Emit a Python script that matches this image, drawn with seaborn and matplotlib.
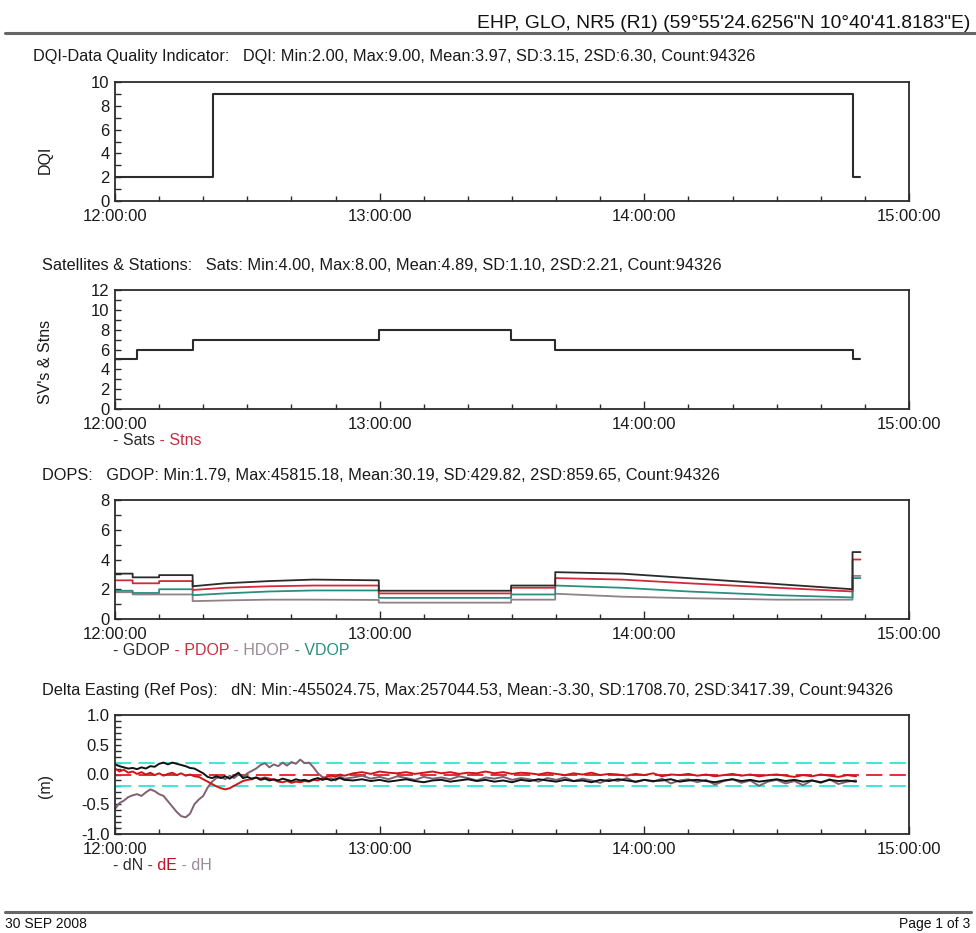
import matplotlib
matplotlib.use('Agg')
import matplotlib.pyplot as plt
from matplotlib import font_manager
from matplotlib.ticker import MultipleLocator
import seaborn as sns

# ---- data (minutes after 12:00:00) ----
dqi_min = [0, 22.2, 167.2, 169.0]
dqi_val = [2, 9, 2, 2]

sats_min = [0, 5.0, 17.7, 59.8, 89.8, 99.8, 167.2, 169.0]
sats_val = [5, 6, 7, 8, 7, 6, 5, 5]

dop_min = [0, 4, 4, 10, 10, 17.6, 17.6, 25, 35, 45, 59.8, 59.8, 89.8, 89.8,
           99.8, 99.8, 115, 130, 150, 167.2, 167.2, 169]
gdop = [3.05, 3.05, 2.8, 2.8, 2.95, 2.95, 2.2, 2.4, 2.55, 2.65, 2.6, 1.9, 1.9, 2.25,
        2.25, 3.15, 3.05, 2.75, 2.35, 2.0, 4.5, 4.5]
pdop = [2.6, 2.6, 2.4, 2.4, 2.55, 2.55, 1.95, 2.1, 2.2, 2.25, 2.25, 1.72, 1.72, 2.1,
        2.1, 2.75, 2.65, 2.4, 2.1, 1.85, 4.0, 4.0]
hdop = [1.8, 1.8, 1.65, 1.65, 1.65, 1.65, 1.2, 1.25, 1.3, 1.3, 1.28, 1.1, 1.1, 1.3,
        1.3, 1.7, 1.5, 1.4, 1.3, 1.3, 2.9, 2.9]
vdop = [1.9, 1.9, 1.75, 1.75, 2.0, 2.0, 1.6, 1.72, 1.85, 1.92, 1.92, 1.42, 1.42, 1.65,
        1.65, 2.25, 2.1, 1.85, 1.6, 1.45, 2.75, 2.75]

delta_min = [0, 1, 2, 3, 4, 5, 6, 7, 8, 9, 10, 11, 12, 13, 14, 15, 16, 17, 18, 19,
             20, 21, 22, 23, 24, 25, 26, 27, 28, 29, 30, 31, 32, 33, 34, 35, 36, 37, 38, 39,
             40, 41, 42, 43, 44, 45, 46, 47, 48, 49, 50, 51, 52,
             54, 56, 58, 60, 62, 64, 66, 68, 70, 72, 74, 76, 78, 80, 82, 84, 86, 88, 90, 92,
             94, 96, 98, 100, 102, 104, 106, 108, 110, 112, 114, 116, 118, 120, 122, 124,
             126, 128, 130, 132, 134, 136, 138, 140, 142, 144, 146, 148, 150, 152, 154, 156,
             158, 160, 162, 164, 166, 168]
dN = [0.17, 0.14, 0.12, 0.10, 0.11, 0.09, 0.12, 0.10, 0.14, 0.13,
      0.18, 0.20, 0.17, 0.20, 0.18, 0.16, 0.14, 0.11, 0.10, 0.06,
      0.02, -0.04, -0.06, -0.03, -0.06, -0.03, -0.07, -0.02, 0.03, -0.06,
      -0.04, -0.07, -0.05, -0.09, -0.07, -0.10, -0.08, -0.10, -0.07, -0.09,
      -0.11, -0.08, -0.10, -0.09, -0.11, -0.08, -0.06, -0.09, -0.07, -0.10,
      -0.08, -0.06, -0.09,
      -0.10, -0.08, -0.11, -0.09, -0.12, -0.10, -0.08, -0.11, -0.13, -0.10,
      -0.09, -0.12, -0.10, -0.08, -0.11, -0.09, -0.12, -0.10, -0.13, -0.09,
      -0.11, -0.08, -0.10, -0.12, -0.09, -0.11, -0.10, -0.13, -0.09, -0.11,
      -0.08, -0.10, -0.12, -0.09, -0.11, -0.10, -0.08, -0.12, -0.10, -0.09,
      -0.11, -0.13, -0.10, -0.08, -0.11, -0.09, -0.12, -0.10, -0.08, -0.11,
      -0.09, -0.12, -0.10, -0.13, -0.09, -0.11, -0.10, -0.12]
dE = [0.10, 0.05, 0.08, 0.03, 0.05, 0.01, 0.04, 0.00, 0.03, -0.01,
      0.02, -0.02, 0.01, 0.03, -0.01, 0.02, -0.02, 0.00, -0.03, -0.04,
      -0.08, -0.12, -0.16, -0.20, -0.23, -0.25, -0.23, -0.19, -0.15, -0.11,
      -0.09, -0.08, -0.05, -0.07, -0.05, -0.07, -0.09, -0.12, -0.13, -0.11,
      -0.14, -0.12, -0.13, -0.11, -0.12, -0.09, -0.10, -0.06, -0.04, -0.02,
      -0.04, 0.00, -0.02,
      0.02, 0.04, 0.01, 0.05, 0.03, 0.02, 0.04, 0.01, 0.03, 0.05,
      0.02, 0.04, 0.01, 0.03, 0.02, 0.05, 0.02, 0.04, 0.01, 0.03,
      0.02, 0.00, 0.03, 0.01, -0.01, 0.02, 0.00, 0.03, -0.01, 0.01,
      0.00, -0.02, 0.01, -0.01, 0.02, -0.03, 0.00, -0.01, 0.01, -0.02,
      0.00, -0.03, -0.01, 0.01, -0.02, 0.00, -0.03, -0.01, 0.00, -0.02,
      -0.04, -0.01, -0.03, 0.00, -0.02, -0.04, -0.01, -0.03]
dH = [-0.58, -0.48, -0.44, -0.38, -0.35, -0.33, -0.36, -0.30, -0.25, -0.28,
      -0.33, -0.36, -0.45, -0.54, -0.63, -0.70, -0.72, -0.66, -0.50, -0.42,
      -0.36, -0.22, -0.12, -0.06, -0.04, -0.08, -0.02, -0.06, 0.00, -0.04,
      0.02, 0.06, 0.10, 0.16, 0.19, 0.12, 0.17, 0.14, 0.20, 0.15,
      0.21, 0.18, 0.25, 0.19, 0.20, 0.12, 0.02, -0.04, -0.08, -0.06,
      -0.10, -0.03, -0.07,
      -0.05, -0.02, -0.07, -0.04, -0.08, -0.03, -0.06, -0.09, -0.04, -0.07,
      -0.05, -0.08, -0.03, -0.06, -0.10, -0.05, -0.07, -0.04, -0.09, -0.06,
      -0.08, -0.12, -0.06, -0.09, -0.05, -0.11, -0.07, -0.10, -0.14, -0.08,
      -0.11, -0.06, -0.13, -0.09, -0.12, -0.07, -0.15, -0.10, -0.08, -0.13,
      -0.09, -0.17, -0.11, -0.08, -0.14, -0.10, -0.19, -0.12, -0.09, -0.15,
      -0.11, -0.18, -0.10, -0.14, -0.08, -0.16, -0.12, -0.10]

time_ticks = [0, 60, 120, 180]
time_labels = ['12:00:00', '13:00:00', '14:00:00', '15:00:00']

title = 'EHP, GLO, NR5 (R1) (59\u00b055\'24.6256"N 10\u00b040\'41.8183"E)'
headers = [
    'DQI-Data Quality Indicator:   DQI: Min:2.00, Max:9.00, Mean:3.97, SD:3.15, 2SD:6.30, Count:94326',
    'Satellites & Stations:   Sats: Min:4.00, Max:8.00, Mean:4.89, SD:1.10, 2SD:2.21, Count:94326',
    'DOPS:   GDOP: Min:1.79, Max:45815.18, Mean:30.19, SD:429.82, 2SD:859.65, Count:94326',
    'Delta Easting (Ref Pos):   dN: Min:-455024.75, Max:257044.53, Mean:-3.30, SD:1708.70, 2SD:3417.39, Count:94326',
]

# ---- style ----
sns.set_theme(style='white')
plt.rcParams['font.family'] = ['Liberation Sans', 'DejaVu Sans']

# the report title looks condensed; use Liberation Sans Narrow only if it is there
installed = {f.name for f in font_manager.fontManager.ttflist}
if 'Liberation Sans Narrow' in installed:
    narrow = ['Liberation Sans Narrow', 'DejaVu Sans']
else:
    narrow = ['Liberation Sans', 'DejaVu Sans']

W, H = 976, 933
DARK = '#2b2b2b'
RED = '#d22a3a'
GREY = '#8f8189'
TEAL = '#2a8f7e'
FS = 11.5
HFS = 11.8
TFS = 12

fig = plt.figure(figsize=(W / 100, H / 100), dpi=100)
fig.patch.set_facecolor('white')
renderer = fig.canvas.get_renderer()

ax_left, ax_right = 115, 909
panel_tops = [82, 290, 500, 715]
panel_h = 119


def make_axes(top):
    ax = fig.add_axes([ax_left / W, 1 - (top + panel_h) / H,
                       (ax_right - ax_left) / W, panel_h / H])
    ax.set_xlim(0, 180)
    ax.set_xticks(time_ticks)
    ax.set_xticklabels(time_labels)
    ax.xaxis.set_minor_locator(MultipleLocator(10))
    ax.tick_params(axis='both', which='both', direction='in', colors=DARK,
                   labelcolor='#1a1a1a', labelsize=TFS, top=False, right=False,
                   bottom=True, left=True, width=1.0)
    ax.tick_params(axis='x', which='major', length=5.5, pad=6)
    ax.tick_params(axis='x', which='minor', length=3.5)
    ax.tick_params(axis='y', which='both', length=4, pad=4)
    for s in ax.spines.values():
        s.set_color(DARK)
        s.set_linewidth(1.3)
    ax.set_facecolor('white')
    return ax


def color_text(x_px, y_px, parts):
    x = x_px
    for s, c in parts:
        t = fig.text(x / W, 1 - y_px / H, s, color=c, fontsize=FS, ha='left', va='baseline')
        x += t.get_window_extent(renderer=renderer).width


def fitted_text(x_px, y_px, s, width_px, ha, max_fs):
    # size the text so that it spans the same width as in the report
    t = fig.text(x_px / W, 1 - y_px / H, s, family=narrow, fontsize=10,
                 ha=ha, va='baseline', color='#111111')
    w = t.get_window_extent(renderer=renderer).width
    t.set_fontsize(min(max_fs, 10 * width_px / w))
    return t


# title, footer and frame lines
fitted_text(970, 28, title, 492, 'right', 18)
fig.add_artist(plt.Line2D([0.005, 1.0], [1 - 33 / H, 1 - 33 / H], color='#666666', lw=2.2))
fig.add_artist(plt.Line2D([0.005, 0.995], [1 - 912 / H, 1 - 912 / H], color='#666666', lw=2.2))
fig.text(5 / W, 1 - 928 / H, '30 SEP 2008', family=narrow, fontsize=10,
         ha='left', va='baseline', color='#111111')
fig.text(970 / W, 1 - 928 / H, 'Page 1 of 3', family=narrow, fontsize=10,
         ha='right', va='baseline', color='#111111')

for top, hd, hx in zip(panel_tops, headers, [33, 42, 42, 42]):
    fig.text(hx / W, 1 - (top - 20.5) / H, hd, fontsize=HFS, ha='left', va='baseline', color='#1a1a1a')

# panel 1: DQI
ax1 = make_axes(panel_tops[0])
sns.lineplot(x=dqi_min, y=dqi_val, ax=ax1, color=DARK, linewidth=1.5,
             drawstyle='steps-post', estimator=None, sort=False, legend=False)
ax1.set_ylim(0, 10)
ax1.set_yticks([0, 2, 4, 6, 8, 10])
ax1.yaxis.set_minor_locator(MultipleLocator(1))
ax1.set_ylabel('DQI', fontsize=FS, color='#1a1a1a')
ax1.yaxis.set_label_coords(-0.078, 0.345)

# panel 2: satellites
ax2 = make_axes(panel_tops[1])
sns.lineplot(x=sats_min, y=sats_val, ax=ax2, color=DARK, linewidth=1.5,
             drawstyle='steps-post', estimator=None, sort=False, legend=False)
ax2.set_ylim(0, 12)
ax2.set_yticks([0, 2, 4, 6, 8, 10, 12])
ax2.yaxis.set_minor_locator(MultipleLocator(1))
ax2.set_ylabel("SV's & Stns", fontsize=FS, color='#1a1a1a')
ax2.yaxis.set_label_coords(-0.078, 0.395)

# panel 3: DOPs
ax3 = make_axes(panel_tops[2])
for vals, col in [(hdop, GREY), (vdop, TEAL), (pdop, RED), (gdop, DARK)]:
    sns.lineplot(x=dop_min, y=vals, ax=ax3, color=col, linewidth=1.3,
                 estimator=None, sort=False, legend=False)
ax3.set_ylim(0, 8)
ax3.set_yticks([0, 2, 4, 6, 8])
ax3.yaxis.set_minor_locator(MultipleLocator(1))
ax3.set_ylabel('')

# panel 4: deltas
ax4 = make_axes(panel_tops[3])
ax4.axhline(0.2, color='#35e3d3', lw=1.3, dashes=(9, 4), zorder=1)
ax4.axhline(-0.2, color='#35e3d3', lw=1.3, dashes=(9, 4), zorder=1)
ax4.axhline(0.0, color='#e02020', lw=1.3, dashes=(9, 4), zorder=1)
for vals, col in [(dH, '#7d6272'), (dE, '#d01515'), (dN, '#111111')]:
    sns.lineplot(x=delta_min, y=vals, ax=ax4, color=col, linewidth=1.4,
                 estimator=None, sort=False, legend=False)
ax4.set_ylim(-1, 1)
ax4.set_yticks([-1.0, -0.5, 0.0, 0.5, 1.0])
ax4.set_yticklabels(['-1.0', '-0.5', '0.0', '0.5', '1.0'])
ax4.yaxis.set_minor_locator(MultipleLocator(0.1))
ax4.set_ylabel('(m)', fontsize=FS, color='#1a1a1a')
ax4.yaxis.set_label_coords(-0.078, 0.40)

for ax in [ax1, ax2, ax3, ax4]:
    ax.set_xlabel('')

# legends under axes
color_text(113, 409 + 36, [('- Sats', DARK), (' - Stns', '#c03040')])
color_text(113, 619 + 36, [('- GDOP', DARK), (' - PDOP', '#c83040'),
                           (' - HDOP', '#9a8c94'), (' - VDOP', TEAL)])
color_text(113, 834 + 36, [('- dN', DARK), (' - dE', '#c01028'), (' - dH', '#9a8c94')])

fig.savefig('out.png', dpi=100, facecolor='white')
